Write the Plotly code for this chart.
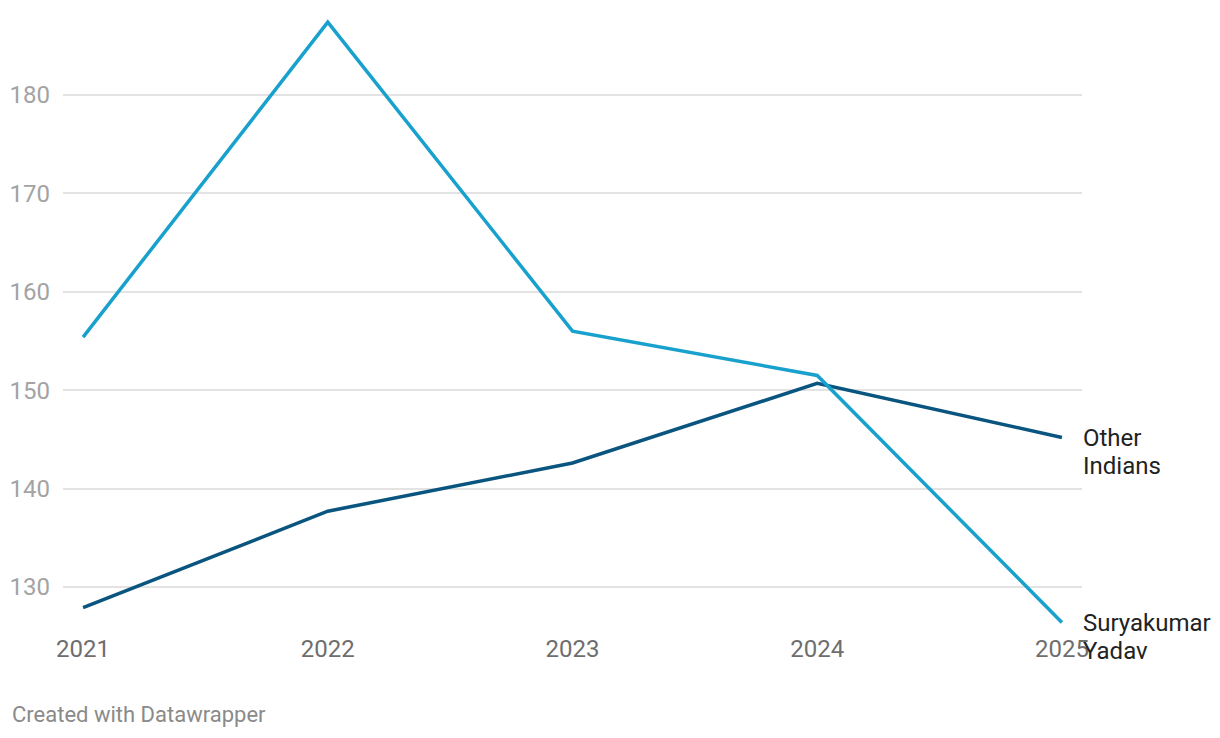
import plotly.graph_objects as go

years = [2021, 2022, 2023, 2024, 2025]
suryakumar = [155.4, 187.4, 156.0, 151.5, 126.4]
other_indians = [127.9, 137.7, 142.6, 150.7, 145.2]
y_ticks = [130, 140, 150, 160, 170, 180]
x_ticks = [2021, 2022, 2023, 2024, 2025]

LIGHT = "#18a1cd"
DARK = "#09557f"

fig = go.Figure()
fig.add_trace(go.Scatter(x=years, y=other_indians, mode="lines",
                         line=dict(color=DARK, width=3.5), name="Other Indians",
                         hoverinfo="skip"))
fig.add_trace(go.Scatter(x=years, y=suryakumar, mode="lines",
                         line=dict(color=LIGHT, width=3.5), name="Suryakumar Yadav",
                         hoverinfo="skip"))

label_font = dict(family="Roboto", size=24, color="#222222")
for yv, lines in [(other_indians[-1], ["Other", "Indians"]),
                  (suryakumar[-1], ["Suryakumar", "Yadav"])]:
    for i, txt in enumerate(lines):
        fig.add_annotation(x=years[-1], y=yv, text=txt, xref="x", yref="y",
                           showarrow=False, xanchor="left", yanchor="middle",
                           align="left", xshift=19, yshift=-1 - 28 * i,
                           font=label_font)

fig.add_annotation(x=0, y=0, xref="paper", yref="paper", xanchor="left", yanchor="middle",
                   text="Created with Datawrapper", showarrow=False,
                   xshift=-53, yshift=-84,
                   font=dict(family="Roboto", size=22, color="#8a8a8a"))

fig.update_layout(
    width=1220, height=738,
    margin=dict(l=55, r=146, t=2, b=116),
    paper_bgcolor="white", plot_bgcolor="white",
    showlegend=False,
    font=dict(family="Roboto"),
    xaxis=dict(range=[2020.918, 2025.082], tickmode="array", tickvals=x_ticks,
               ticktext=[str(v) for v in x_ticks], showgrid=False, zeroline=False,
               showline=False, ticks="", tickfont=dict(size=24, color="#6e6e6e"),
               ticklabelstandoff=2),
    yaxis=dict(range=[125.63, 188.64], tickmode="array", tickvals=y_ticks,
               ticktext=[str(v) for v in y_ticks], showgrid=True, gridcolor="#e3e3e3",
               gridwidth=1.5, zeroline=False, showline=False, ticks="",
               tickfont=dict(size=24, color="#a3a3a3"), ticklabelstandoff=12),
)

fig.write_html("out.html")
